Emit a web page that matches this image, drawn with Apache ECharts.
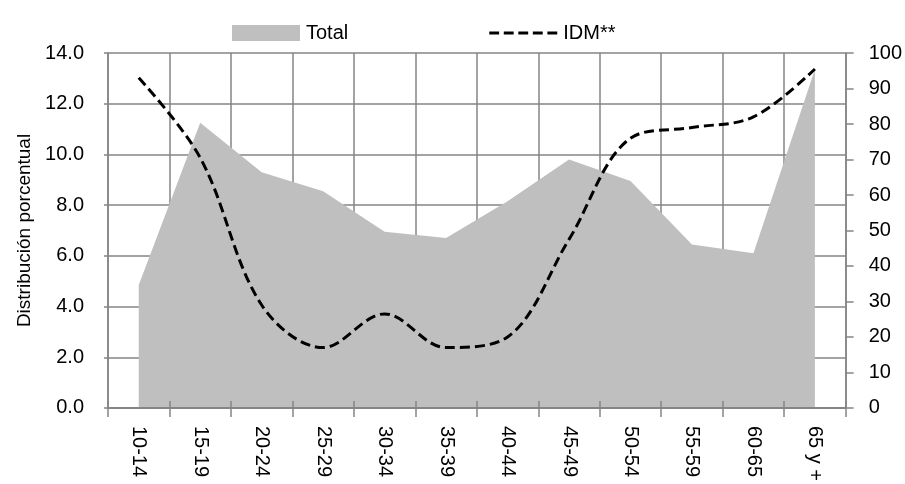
<!DOCTYPE html>
<html>
<head>
<meta charset="utf-8">
<script src="https://cdn.jsdelivr.net/npm/echarts@6/dist/echarts.min.js"></script>
<style>html,body{margin:0;padding:0;background:#fff}#c{width:905px;height:484px}</style>
</head>
<body>
<div id="c"></div>
<script>
var categories = ['10-14','15-19','20-24','25-29','30-34','35-39','40-44','45-49','50-54','55-59','60-65','65 y +'];
var totalValues = [4.85, 11.25, 9.3, 8.55, 6.95, 6.7, 8.15, 9.8, 8.95, 6.45, 6.1, 13.35];
var idmValues = [93, 70.5, 29, 17, 26.5, 17, 20, 47.5, 76, 79, 82, 95.5];
var leftTicks = [0, 14, 2];
var rightTicks = [0, 100, 10];

var FONT = "'Liberation Sans',Arial,sans-serif";
var GRID = '#858585';
var chart = echarts.init(document.getElementById('c'));
chart.setOption({
  animation: false,
  backgroundColor: '#fff',
  textStyle: {fontFamily: FONT},
  legend: {
    top: 18, left: 227, itemGap: 141, itemWidth: 68, itemHeight: 16,
    textStyle: {fontFamily: FONT, fontSize: 20, color: '#000', padding: [0, 0, 0, 1]},
    data: [
      {name: 'Total', icon: 'rect', itemStyle: {color: '#bfbfbf'}},
      {name: 'IDM**', icon: 'path://M0,0 L10,0 L10,3 L0,3 Z M14.75,0 L24.75,0 L24.75,3 L14.75,3 Z M29.5,0 L39.5,0 L39.5,3 L29.5,3 Z M44.25,0 L54.25,0 L54.25,3 L44.25,3 Z M59,0 L69,0 L69,3 L59,3 Z', itemStyle: {color: '#000'}}
    ]
  },
  grid: {left: 108, right: 59, top: 53, bottom: 72},
  xAxis: [
    {
      type: 'category', data: categories, boundaryGap: true, z: 0,
      axisLine: {lineStyle: {color: GRID, width: 1.5}},
      axisTick: {show: true, interval: 0, length: 9, lineStyle: {color: GRID, width: 1.5}},
      axisLabel: {rotate: -90, interval: 0, fontSize: 20, color: '#000', fontFamily: FONT, margin: 18},
      splitLine: {show: true, interval: 0, lineStyle: {color: GRID, width: 1.5}}
    },
    {
      type: 'category', data: categories, boundaryGap: true, position: 'bottom', z: 10,
      axisLine: {show: true, lineStyle: {color: GRID, width: 2}},
      axisTick: {show: true, inside: true, interval: 0, length: 7, lineStyle: {color: GRID, width: 1.5}},
      axisLabel: {show: false},
      splitLine: {show: false}
    }
  ],
  yAxis: [
    {
      type: 'value', min: leftTicks[0], max: leftTicks[1], interval: leftTicks[2],
      name: 'Distribución porcentual', nameLocation: 'middle', nameGap: 74, nameRotate: 90,
      nameTextStyle: {fontSize: 19, color: '#000', fontFamily: FONT},
      axisLine: {show: true, lineStyle: {color: GRID, width: 1.5}},
      axisTick: {show: true, length: 4, lineStyle: {color: GRID, width: 1.5}},
      axisLabel: {fontSize: 20, color: '#000', fontFamily: FONT, margin: 24, formatter: function(v){return v.toFixed(1);}},
      splitLine: {show: true, lineStyle: {color: GRID, width: 1.5}}
    },
    {
      type: 'value', min: rightTicks[0], max: rightTicks[1], interval: rightTicks[2], position: 'right',
      axisLine: {show: true, lineStyle: {color: GRID, width: 1.5}},
      axisTick: {show: true, length: 8, lineStyle: {color: GRID, width: 1.5}},
      axisLabel: {fontSize: 20, color: '#000', fontFamily: FONT, margin: 23},
      splitLine: {show: false}
    }
  ],
  series: [
    {
      name: 'Total', type: 'line', yAxisIndex: 0, xAxisIndex: 0, data: totalValues,
      symbol: 'none', lineStyle: {width: 0}, itemStyle: {color: '#bfbfbf'},
      areaStyle: {color: '#bfbfbf', opacity: 1}, z: 1
    },
    {
      name: 'IDM**', type: 'line', yAxisIndex: 1, xAxisIndex: 0, data: idmValues, smooth: 0.35,
      symbol: 'none', itemStyle: {color: '#000'},
      lineStyle: {color: '#000', width: 3, type: [10, 5]}, z: 12
    }
  ]
});
</script>
</body>
</html>
